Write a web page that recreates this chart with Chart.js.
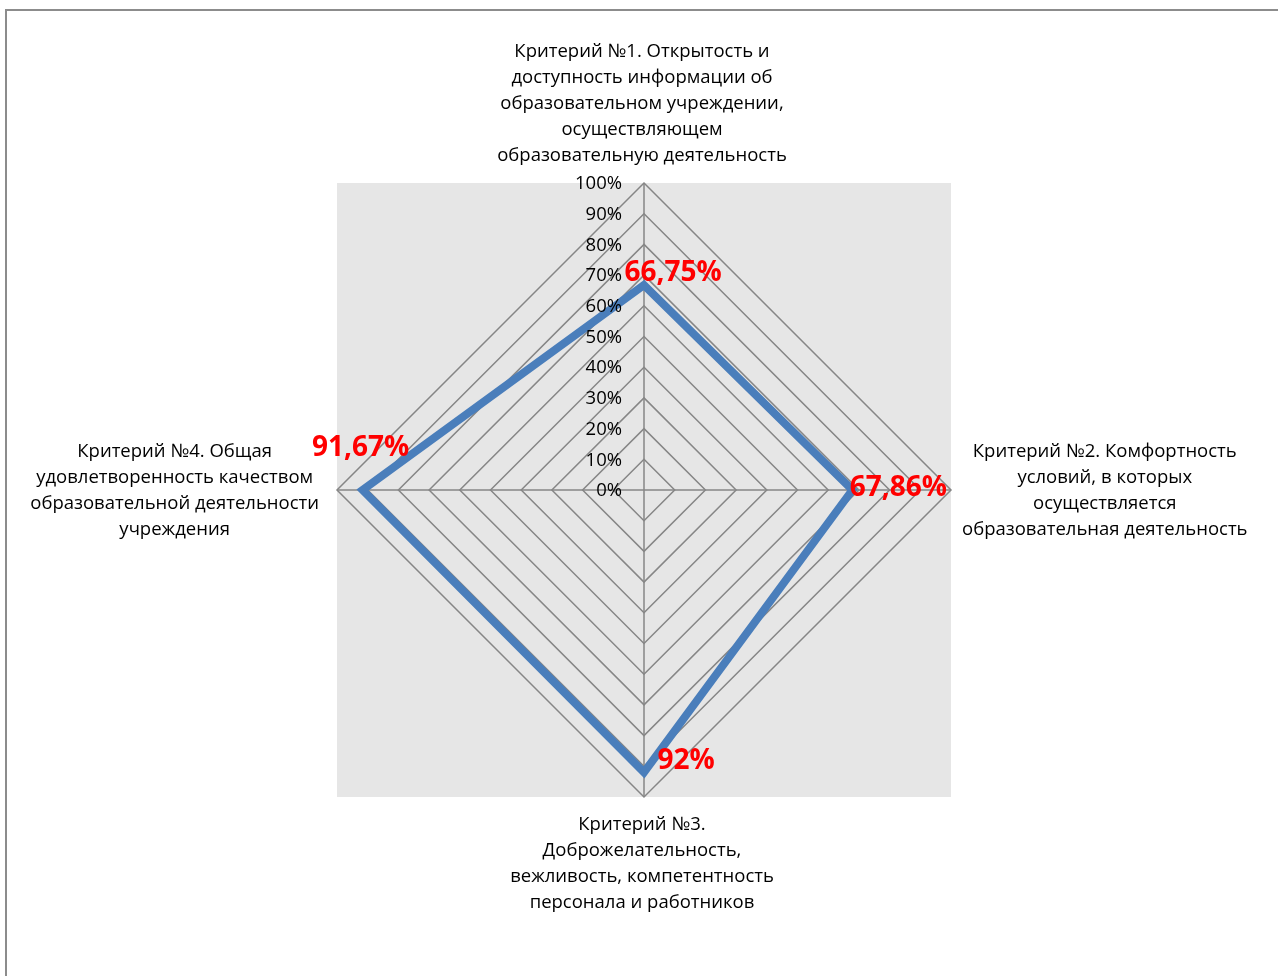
<!DOCTYPE html>
<html>
<head>
<meta charset="utf-8">
<script src="https://cdn.jsdelivr.net/npm/chart.js@4"></script>
<style>
  html, body { margin: 0; padding: 0; background: #fff; }
  #wrap { width: 1278px; height: 976px; }
</style>
</head>
<body>
<div id="wrap"><canvas id="canvas" width="1278" height="976"></canvas></div>
<script>
const categories = [
  ["Критерий №1. Открытость и", "доступность информации об", "образовательном учреждении,", "осуществляющем", "образовательную деятельность"],
  ["Критерий №2. Комфортность", "условий, в которых", "осуществляется", "образовательная деятельность"],
  ["Критерий №3.", "Доброжелательность,", "вежливость, компетентность", "персонала и работников"],
  ["Критерий №4. Общая", "удовлетворенность качеством", "образовательной деятельности", "учреждения"],
];
const values = [66.75, 67.86, 92, 91.67];
const valueLabels = ["66,75%", "67,86%", "92%", "91,67%"];
const tickValues = [0, 10, 20, 30, 40, 50, 60, 70, 80, 90, 100];

const FONT = "'Open Sans', 'Liberation Sans', Arial, sans-serif";

// background, frame, tick texts, category labels, value labels
const decor = {
  id: "decor",
  beforeDraw(chart) {
    const ctx = chart.ctx;
    const s = chart.scales.r;
    const r = s.drawingArea;
    ctx.save();
    ctx.fillStyle = "#fff";
    ctx.fillRect(0, 0, chart.width, chart.height);
    ctx.fillStyle = "#e6e6e6";
    ctx.fillRect(s.xCenter - r, s.yCenter - r, r * 2, r * 2);
    ctx.strokeStyle = "#8c8c8c";
    ctx.lineWidth = 2;
    ctx.beginPath();
    ctx.moveTo(6, chart.height);
    ctx.lineTo(6, 10);
    ctx.lineTo(chart.width, 10);
    ctx.stroke();
    ctx.restore();
  },
  afterDraw(chart) {
    const ctx = chart.ctx;
    const s = chart.scales.r;
    const r = s.drawingArea;
    ctx.save();
    // ticks
    ctx.font = "18.5px " + FONT;
    ctx.fillStyle = "#000";
    ctx.textAlign = "right";
    ctx.textBaseline = "middle";
    tickValues.forEach(v => {
      const y = s.yCenter - s.getDistanceFromCenterForValue(v);
      ctx.fillText(v + "%", s.xCenter - 22, y + 1);
    });
    // category labels
    ctx.font = "18.5px " + FONT;
    ctx.textAlign = "center";
    const lh = 26;
    categories.forEach((lines, i) => {
      const w = Math.max(...lines.map(l => ctx.measureText(l).width));
      const h = lines.length * lh;
      let cx, top;
      if (i === 0) { cx = s.xCenter - 2; top = s.yCenter - r - 15 - h; }
      else if (i === 1) { cx = s.xCenter + r + 11 + w / 2; top = s.yCenter - h / 2; }
      else if (i === 2) { cx = s.xCenter - 2; top = s.yCenter + r + 14; }
      else { cx = s.xCenter - r - 18 - w / 2; top = s.yCenter - h / 2; }
      lines.forEach((l, k) => ctx.fillText(l, cx, top + lh * k + lh / 2 + 1));
    });
    // value labels
    const meta = chart.getDatasetMeta(0);
    const offs = [[29, -12], [46, -2], [42, -11], [-2, -42]];
    ctx.font = "bold 28px " + FONT;
    ctx.fillStyle = "#ff0000";
    meta.data.forEach((p, i) => {
      ctx.fillText(valueLabels[i], p.x + offs[i][0], p.y + offs[i][1]);
    });
    ctx.restore();
  }
};

const config = {
  type: "radar",
  data: {
    labels: categories,
    datasets: [{
      data: values,
      borderColor: "#4a7ebb",
      backgroundColor: "transparent",
      borderWidth: 8,
      pointRadius: 0,
      fill: false,
      tension: 0,
      borderJoinStyle: "miter",
    }],
  },
  options: {
    responsive: false,
    animation: false,
    layout: { padding: { left: 337, right: 327, top: 183, bottom: 179 } },
    plugins: { legend: { display: false }, tooltip: { enabled: false } },
    scales: {
      r: {
        min: 0,
        max: 100,
        ticks: { display: false, stepSize: 10 },
        pointLabels: { display: false },
        grid: { color: "#868686", lineWidth: 1.5 },
        angleLines: { color: "#868686", lineWidth: 1.5 },
      },
    },
  },
  plugins: [decor],
};

const chart = new Chart(document.getElementById("canvas"), config);
</script>
</body>
</html>
